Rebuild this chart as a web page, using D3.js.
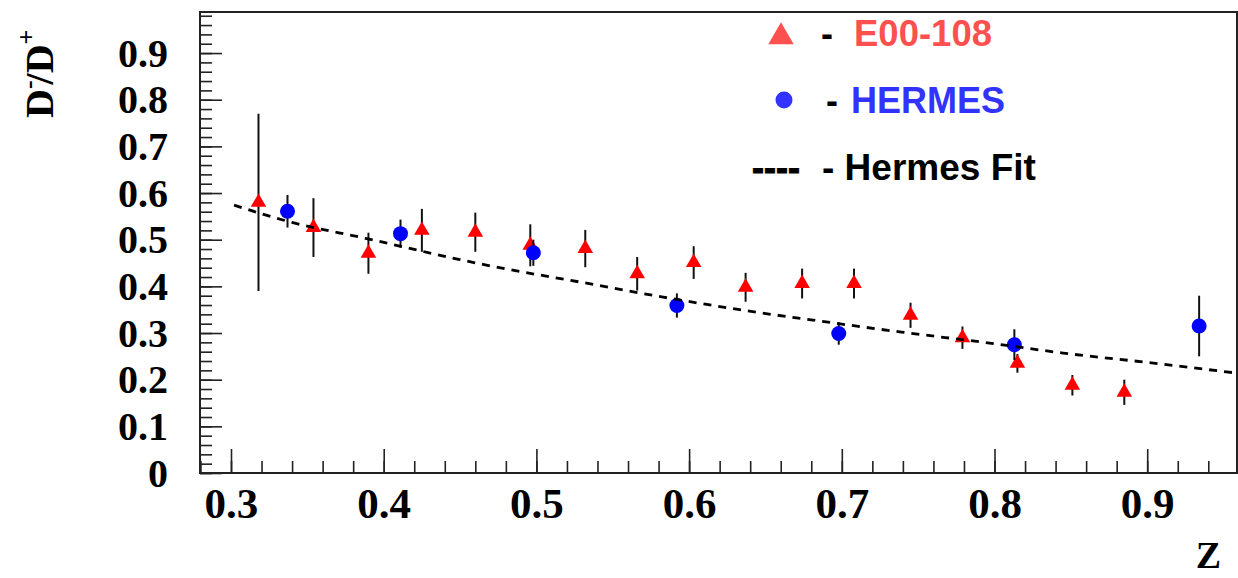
<!DOCTYPE html>
<html>
<head>
<meta charset="utf-8">
<script src="https://cdn.jsdelivr.net/npm/d3@7"></script>
<style>
  html, body { margin: 0; padding: 0; background: #fff; }
  svg { display: block; }
</style>
</head>
<body>
<svg id="chart" width="1238" height="578"></svg>
<script>
// ---- data ----
const e00Z   = [0.318, 0.354, 0.390, 0.425, 0.460, 0.496, 0.532, 0.566, 0.603, 0.637, 0.674, 0.708, 0.745, 0.779, 0.815, 0.851, 0.885];
const e00Val = [0.580, 0.526, 0.471, 0.520, 0.516, 0.488, 0.481, 0.427, 0.451, 0.398, 0.406, 0.406, 0.338, 0.290, 0.235, 0.188, 0.173];
const e00Err = [0.190, 0.063, 0.044, 0.046, 0.042, 0.045, 0.040, 0.036, 0.035, 0.031, 0.032, 0.032, 0.027, 0.024, 0.020, 0.022, 0.027];

const hermesZ   = [0.337, 0.411, 0.498, 0.592, 0.698, 0.813, 0.934];
const hermesVal = [0.561, 0.513, 0.472, 0.359, 0.299, 0.275, 0.315];
const hermesErr = [0.035, 0.030, 0.028, 0.026, 0.024, 0.033, 0.065];

const fitZ   = [0.302, 0.340, 0.388, 0.449, 0.468, 0.529, 0.583, 0.631, 0.687, 0.739, 0.798, 0.845, 0.900, 0.959];
const fitVal = [0.574, 0.537, 0.503, 0.458, 0.445, 0.409, 0.377, 0.351, 0.325, 0.302, 0.278, 0.257, 0.237, 0.214];

const xMajorTicks = [0.3, 0.4, 0.5, 0.6, 0.7, 0.8, 0.9];
const xTickLabels = ["0.3", "0.4", "0.5", "0.6", "0.7", "0.8", "0.9"];
const yMajorTicks = [0, 0.1, 0.2, 0.3, 0.4, 0.5, 0.6, 0.7, 0.8, 0.9];
const yTickLabels = ["0", "0.1", "0.2", "0.3", "0.4", "0.5", "0.6", "0.7", "0.8", "0.9"];
const legendLabels = ["E00-108", "HERMES", "Hermes Fit"];

// ---- layout ----
const svg = d3.select("#chart");
const L = 200, R = 1237, T = 12, B = 473;
const x = d3.scaleLinear().domain([0.2797, 0.9588]).range([L, R]);
const y = d3.scaleLinear().domain([0, 0.988]).range([B, T]);

const serif = "'Liberation Serif', 'Times New Roman', serif";
const sans = "'Liberation Sans', Arial, sans-serif";

// minor ticks
const xMinor = d3.range(0.28, 0.9601, 0.02).map(v => +v.toFixed(2));
const yMinor = d3.range(0, 0.981, 0.02).map(v => +v.toFixed(2));

const gxMinor = svg.append("g").attr("transform", `translate(0,${B})`)
  .call(d3.axisBottom(x).tickValues(xMinor).tickSize(-12).tickFormat(""));
const gyMinor = svg.append("g").attr("transform", `translate(${L},0)`)
  .call(d3.axisLeft(y).tickValues(yMinor).tickSize(-12).tickFormat(""));

const gx = svg.append("g").attr("transform", `translate(0,${B})`)
  .call(d3.axisBottom(x).tickValues(xMajorTicks).tickSize(-24).tickPadding(44)
        .tickFormat((d, i) => xTickLabels[i]));
const gy = svg.append("g").attr("transform", `translate(${L},0)`)
  .call(d3.axisLeft(y).tickValues(yMajorTicks).tickSize(-22).tickPadding(32)
        .tickFormat((d, i) => yTickLabels[i]));

[gxMinor, gyMinor, gx, gy].forEach(g => {
  g.select(".domain").remove();
  g.selectAll(".tick line").attr("stroke", "#222").attr("stroke-width", 1.6);
});
gx.selectAll(".tick text")
  .attr("font-family", serif).attr("font-weight", "bold").attr("font-size", 43)
  .attr("fill", "#000").attr("dy", 0).attr("y", 45);
gy.selectAll(".tick text")
  .attr("font-family", serif).attr("font-weight", "bold").attr("font-size", 40)
  .attr("fill", "#000").attr("dy", "0.33em");

// frame
svg.append("rect").attr("x", L).attr("y", T).attr("width", R - L).attr("height", B - T)
  .attr("fill", "none").attr("stroke", "#222").attr("stroke-width", 2);

// axis titles
const yt = svg.append("text")
  .attr("transform", "translate(53,118) rotate(-90)")
  .attr("font-family", serif).attr("font-weight", "bold").attr("font-size", 40).attr("fill", "#000");
yt.append("tspan").text("D");
yt.append("tspan").attr("font-size", 26).attr("dy", -16).text("-");
yt.append("tspan").attr("font-size", 40).attr("dy", 16).attr("dx", -4).text("/D");
yt.append("tspan").attr("font-size", 26).attr("dy", -18).text("+");

svg.append("text").attr("x", 1221).attr("y", 568).attr("text-anchor", "end")
  .attr("font-family", serif).attr("font-weight", "bold").attr("font-size", 38).attr("fill", "#000")
  .text("Z");

// ---- E00-108 (red triangles) ----
const e00 = e00Z.map((z, i) => ({ z, v: e00Val[i], e: e00Err[i] }));
const hermes = hermesZ.map((z, i) => ({ z, v: hermesVal[i], e: hermesErr[i] }));

svg.append("g").selectAll("line").data(e00).join("line")
  .attr("x1", d => x(d.z)).attr("x2", d => x(d.z))
  .attr("y1", d => y(d.v - d.e)).attr("y2", d => y(d.v + d.e))
  .attr("stroke", "#111").attr("stroke-width", 2);
svg.append("g").selectAll("path").data(e00).join("path")
  .attr("d", d3.symbol(d3.symbolTriangle, 105))
  .attr("transform", d => `translate(${x(d.z)},${y(d.v)})`)
  .attr("fill", "#ff0000");

// ---- HERMES (blue circles) ----
svg.append("g").selectAll("line").data(hermes).join("line")
  .attr("x1", d => x(d.z)).attr("x2", d => x(d.z))
  .attr("y1", d => y(d.v - d.e)).attr("y2", d => y(d.v + d.e))
  .attr("stroke", "#111").attr("stroke-width", 2);
svg.append("g").selectAll("circle").data(hermes).join("circle")
  .attr("cx", d => x(d.z)).attr("cy", d => y(d.v)).attr("r", 7.5)
  .attr("fill", "#0000ff");

// ---- Hermes fit (dashed) ----
const fit = fitZ.map((z, i) => ({ z, v: fitVal[i] }));
svg.append("path").datum(fit)
  .attr("d", d3.line().x(d => x(d.z)).y(d => y(d.v)).curve(d3.curveMonotoneX))
  .attr("fill", "none").attr("stroke", "#000").attr("stroke-width", 2.8)
  .attr("stroke-dasharray", "8,7");

// ---- legend ----
const lg = svg.append("g").attr("font-family", sans).attr("font-weight", "bold").attr("font-size", 36);
lg.append("path").attr("d", d3.symbol(d3.symbolTriangle, 280))
  .attr("transform", "translate(781,37)").attr("fill", "#ff5050");
lg.append("text").attr("x", 821).attr("y", 46).attr("fill", "#000").text("-");
lg.append("text").attr("x", 854).attr("y", 46).attr("font-size", 36.5).attr("fill", "#ff5050").text(legendLabels[0]);

lg.append("circle").attr("cx", 784).attr("cy", 100).attr("r", 8.5).attr("fill", "#3333ff");
lg.append("text").attr("x", 826).attr("y", 113).attr("fill", "#000").text("-");
lg.append("text").attr("x", 851).attr("y", 113).attr("fill", "#3333ff").text(legendLabels[1]);

lg.append("text").attr("x", 752).attr("y", 180).attr("fill", "#000").attr("stroke", "#000").attr("stroke-width", 1).text("----");
lg.append("text").attr("x", 822).attr("y", 180).attr("font-size", 37).attr("fill", "#000").text("- " + legendLabels[2]);
</script>
</body>
</html>
